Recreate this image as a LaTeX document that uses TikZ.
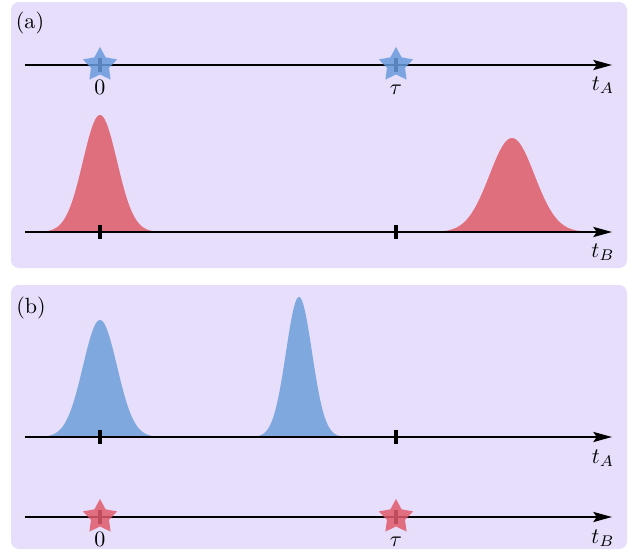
\documentclass[tikz,border=0pt]{standalone}
\usetikzlibrary{arrows.meta,shapes.geometric}
\definecolor{panelbg}{RGB}{230,222,251}
\definecolor{redpulse}{RGB}{223,111,125}
\definecolor{bluepulse}{RGB}{127,168,222}
\definecolor{starblue}{RGB}{105,155,220}
\definecolor{starred}{RGB}{225,90,108}
\begin{document}
\begin{tikzpicture}[x=0.4545pt,y=-0.4545pt,
  panel/.style={fill=panelbg, rounded corners=3.6pt},
  axis/.style={line width=0.9pt, -{Stealth[length=8.5pt,width=4.6pt,inset=1.6pt]}},
  tickmark/.style={line width=1.7pt},
  starmark/.style={star, star points=5, star point ratio=1.9, minimum size=16.4pt, inner sep=0pt, fill opacity=0.85},
  axlab/.style={anchor=center, inner sep=0pt},
  ticklab/.style={anchor=base, inner sep=0pt}]
\useasboundingbox (0,0) rectangle (638,553);
% panels
\fill[panel] (11,2) rectangle (627,268);
\fill[panel] (11,285) rectangle (627,549);
\node (pa) at (30,23) {(a)};
\node (pb) at (31,308) {(b)};
% pulses
\fill[redpulse] plot[domain=-3.6:3.6,samples=90] ({100+17*\x},{232-117*exp(-0.5*(\x)^2)}) -- cycle;
\fill[redpulse] plot[domain=-3.6:3.6,samples=90] ({512+22.5*\x},{232-94*exp(-0.5*(\x)^2)}) -- cycle;
\fill[bluepulse] plot[domain=-3.6:3.6,samples=90] ({100+17*\x},{437-117*exp(-0.5*(\x)^2)}) -- cycle;
\fill[bluepulse] plot[domain=-3.6:3.6,samples=90] ({299+13*\x},{437-140*exp(-0.5*(\x)^2)}) -- cycle;
% axes coordinates
\coordinate (aAs) at (25,65);  \coordinate (aAe) at (612,65);
\coordinate (aBs) at (25,232); \coordinate (aBe) at (612,232);
\coordinate (bAs) at (25,437); \coordinate (bAe) at (612,437);
\coordinate (bBs) at (25,517); \coordinate (bBe) at (612,517);
\draw[axis] (aAs) -- (aAe);
\draw[axis] (aBs) -- (aBe);
\draw[axis] (bAs) -- (bAe);
\draw[axis] (bBs) -- (bBe);
% ticks
\foreach \c/\xx/\yy in {aA0/100/65, aAt/396/65, aB0/100/232, aBt/396/232, bA0/100/437, bAt/396/437, bB0/100/517, bBt/396/517}{
  \coordinate (\c) at (\xx,\yy);
  \draw[tickmark] ([yshift=3.4pt]\c) -- ([yshift=-3.4pt]\c);
}
% stars
\node[starmark, fill=starblue] (sA0) at (aA0) {};
\node[starmark, fill=starblue] (sAt) at (aAt) {};
\node[starmark, fill=starred] (sB0) at (bB0) {};
\node[starmark, fill=starred] (sBt) at (bBt) {};
% tick labels
\node[ticklab] (la0) at (100,94) {$0$};
\node[ticklab] (lat) at (396,94) {$\tau$};
\node[ticklab] (lb0) at (100,546) {$0$};
\node[ticklab] (lbt) at (396,546) {$\tau$};
% axis labels
\node[axlab] (ltA1) at (603,85) {$t_A$};
\node[axlab] (ltB1) at (603,252) {$t_B$};
\node[axlab] (ltA2) at (603,458) {$t_A$};
\node[axlab] (ltB2) at (603,538) {$t_B$};
\end{tikzpicture}
\end{document}
